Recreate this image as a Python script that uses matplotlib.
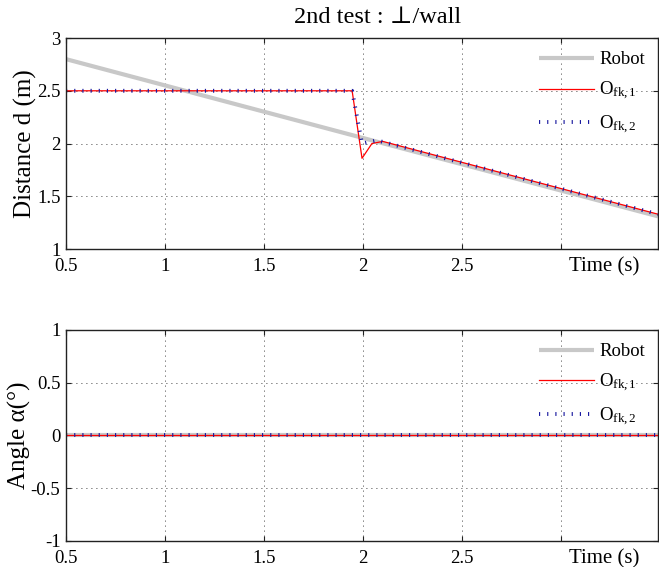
import matplotlib
matplotlib.use("Agg")
import matplotlib.pyplot as plt
from matplotlib.lines import Line2D

plt.rcParams['font.family'] = ['Liberation Serif', 'DejaVu Serif']
plt.rcParams['mathtext.fontset'] = 'custom'
plt.rcParams['mathtext.rm'] = 'Liberation Serif'
plt.rcParams['mathtext.it'] = 'Liberation Serif:italic'

# ---- data ----
title = "2nd test : \u22a5/wall"
t_robot = [0.5, 3.49]
d_robot = [2.8, 1.31]
t_fk1 = [0.5, 1.945, 1.995, 2.045, 2.10, 3.49]
d_fk1 = [2.5, 2.5, 1.86, 2.00, 2.02, 1.33]
t_fk2 = [0.5, 1.945, 1.995, 2.07, 3.49]
d_fk2 = [2.5, 2.5, 2.00, 2.03, 1.33]
a_t = [0.5, 3.49]
a_robot = [0.0, 0.0]
a_fk1 = [0.0, 0.0]
a_fk2 = [0.0, 0.0]
xticks = [0.5, 1, 1.5, 2, 2.5, 3]
xticklabels = ["0.5", "1", "1.5", "2", "2.5", ""]
d_yticks = [1, 1.5, 2, 2.5, 3]
d_yticklabels = ["1", "1.5", "2", "2.5", "3"]
a_yticks = [-1, -0.5, 0, 0.5, 1]
a_yticklabels = ["-1", "-0.5", "0", "0.5", "1"]
labels = ["Robot", r"O$_{\rm fk,1}$", r"O$_{\rm fk,2}$"]

FS = 13.5
fig = plt.figure(figsize=(6.59, 5.67), dpi=100)
ax1 = fig.add_axes([0.1002, 0.5608, 0.8983, 0.3721])
ax2 = fig.add_axes([0.1002, 0.0459, 0.8983, 0.3721])

robot_kw = dict(color='#c8c8c8', lw=3.0, solid_capstyle='butt')
fk1_kw = dict(color='#ff0000', lw=0.9)
fk2_kw = dict(color='#1a1aa0', lw=2.8, linestyle=(0, (0.3, 1.8)), dash_capstyle='butt')

def style(ax, yticks, yticklabels, ylim, ylabel):
    ax.set_xlim(0.5, 3.49)
    ax.set_ylim(*ylim)
    ax.set_xticks(xticks)
    ax.set_xticklabels(xticklabels, fontsize=FS)
    ax.set_yticks(yticks)
    ax.set_yticklabels(yticklabels, fontsize=FS)
    ax.tick_params(direction='in', length=3.5, width=0.8, top=True, right=True,
                   pad=4, colors='#222222', labelcolor='black')
    ax.tick_params(axis='x', pad=6.5)
    ax.grid(True, color='black', lw=0.6, linestyle=(0, (1, 5)))
    for s in ax.spines.values():
        s.set_linewidth(1.0)
        s.set_color('#222222')
    ax.set_ylabel(ylabel, fontsize=18, labelpad=0)
    ax.annotate("Time (s)", xy=(0.909, 0), xycoords='axes fraction',
                xytext=(0, -5.8), textcoords='offset points',
                ha='center', va='top', fontsize=15)
    handles = [Line2D([], [], **robot_kw), Line2D([], [], **fk1_kw),
               Line2D([], [], **fk2_kw)]
    ax.legend(handles, labels, loc='upper right', frameon=False,
              fontsize=FS, handlelength=2.9, labelspacing=0.62,
              handletextpad=0.3, borderaxespad=0.3,
              bbox_to_anchor=(1.0, 1.0))

ax1.plot(t_robot, d_robot, **robot_kw)
ax1.plot(t_fk1, d_fk1, **fk1_kw)
ax1.plot(t_fk2, d_fk2, **fk2_kw)
style(ax1, d_yticks, d_yticklabels, (1, 3), "Distance d (m)")
ax1.set_title(title, fontsize=17.5, pad=10.5, x=0.527)

ax2.plot(a_t, a_robot, **robot_kw)
ax2.plot(a_t, a_fk1, **fk1_kw)
ax2.plot(a_t, a_fk2, **fk2_kw)
style(ax2, a_yticks, a_yticklabels, (-1, 1), "Angle \u03b1(\u00b0)")

fig.savefig("out.png", dpi=100)
